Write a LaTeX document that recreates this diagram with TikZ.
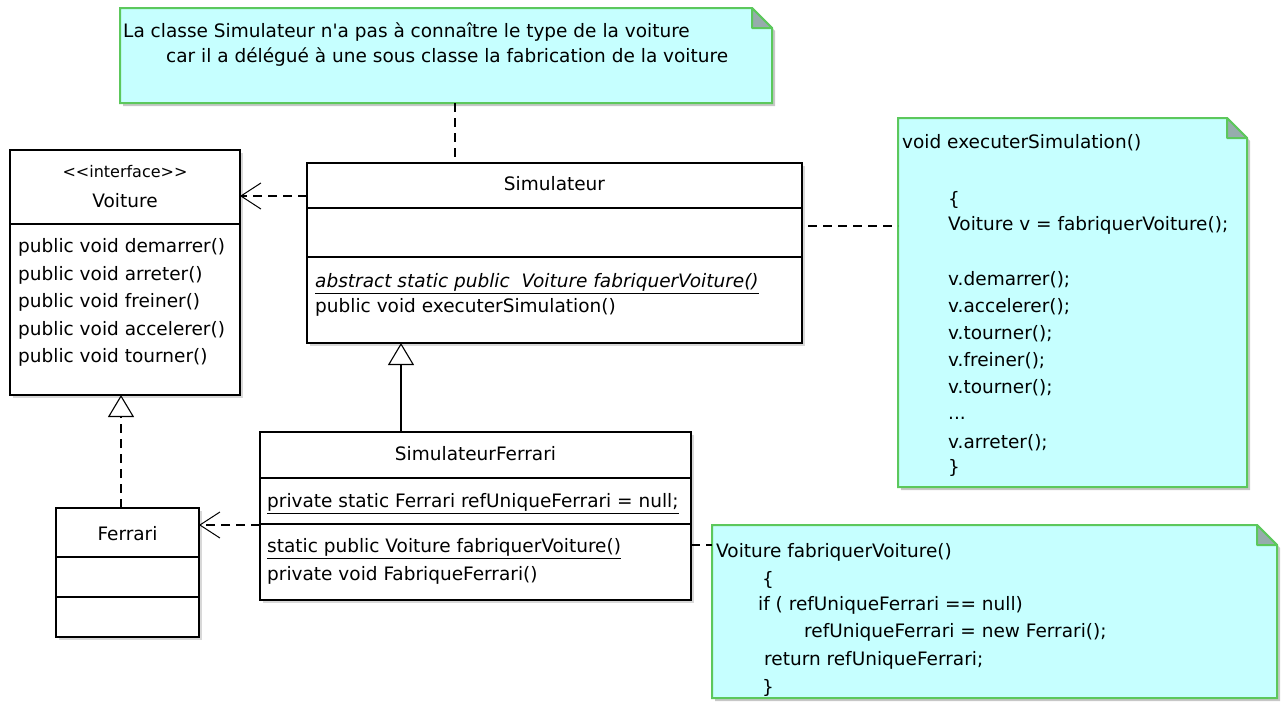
\documentclass[tikz,border=0pt]{standalone}
\usepackage{fontspec}
\setmainfont{DejaVu Sans}
\usetikzlibrary{arrows.meta,shadows}
\definecolor{notefill}{RGB}{198,255,255}
\definecolor{notedraw}{RGB}{92,200,92}
\definecolor{foldfill}{RGB}{150,172,172}
\tikzset{
  cls/.style={draw=black, line width=1.3pt, fill=white, inner sep=0pt, outer sep=0pt,
    anchor=north west, drop shadow={shadow xshift=3pt, shadow yshift=-3pt, fill=black!30}},
  divline/.style={line width=1.3pt},
  txt/.style={anchor=west, inner sep=0pt, text height=11pt, text depth=0pt},
  ctxt/.style={anchor=center, inner sep=0pt, text height=11pt, text depth=0pt},
  deparrow/.style={line width=1.3pt, dash pattern=on 9pt off 6pt,
    -{Straight Barb[length=20pt, width=26pt, line width=1pt]}},
  genarrow/.style={line width=1.3pt, -{Triangle[length=22pt, width=26pt, fill=white, line width=1.1pt]}},
  realarrow/.style={genarrow, dash pattern=on 9pt off 6pt},
  notelink/.style={line width=1.3pt, dash pattern=on 9pt off 6pt},
  notebody/.style={fill=notefill, draw=notedraw, line width=2pt},
  notefold/.style={fill=foldfill, draw=notedraw, line width=2pt, line join=round},
  notearea/.style={inner sep=0pt, outer sep=0pt, anchor=north west}
}
\newcommand\umlnote[5]{%
  \fill[black!22] (#2+3,#3+3) -- (#4-20+3,#3+3) -- (#4+3,#3+20+3) -- (#4+3,#5+3) -- (#2+3,#5+3) -- cycle;
  \draw[notebody] (#2,#3) -- (#4-20,#3) -- (#4,#3+20) -- (#4,#5) -- (#2,#5) -- cycle;
  \draw[notefold] (#4-20,#3) -- (#4-20,#3+20) -- (#4,#3+20) -- cycle;
  \node[notearea, minimum width={#4-#2}, minimum height={#5-#3}] (#1) at (#2,#3) {};
}
\begin{document}
\begin{tikzpicture}[x=1pt, y=-1pt, font=\fontsize{18.5}{22}\selectfont]
\useasboundingbox (0,0) rectangle (1281,702);

% ---------- notes ----------
\umlnote{n1}{120}{8}{772}{103}
\node[txt] (n1a) at (123,32) {La classe Simulateur n\textquotesingle a pas à connaître le type de la voiture};
\node[txt] (n1b) at (166,57) {car il a délégué à une sous classe la fabrication de la voiture};

\umlnote{n2}{898}{118}{1247}{487}
\node[txt] (n2a) at (902,143) {void executerSimulation()};
\node[txt] (n2b) at (948,200) {\{};
\node[txt] (n2c) at (948,225) {Voiture v = fabriquerVoiture();};
\node[txt] (n2d) at (948,280) {v.demarrer();};
\node[txt] (n2e) at (948,307) {v.accelerer();};
\node[txt] (n2f) at (948,334) {v.tourner();};
\node[txt] (n2g) at (948,361) {v.freiner();};
\node[txt] (n2h) at (948,388) {v.tourner();};
\node[txt] (n2i) at (948,414) {...};
\node[txt] (n2j) at (948,443) {v.arreter();};
\node[txt] (n2k) at (948,468) {\}};

\umlnote{n3}{712}{525}{1277}{698}
\node[txt] (n3a) at (716,552) {Voiture fabriquerVoiture()};
\node[txt] (n3b) at (762,580) {\{};
\node[txt] (n3c) at (758,605) {if ( refUniqueFerrari == null)};
\node[txt] (n3d) at (804,632) {refUniqueFerrari = new Ferrari();};
\node[txt] (n3e) at (764,660) {return refUniqueFerrari;};
\node[txt] (n3f) at (762,688) {\}};

% ---------- Voiture ----------
\node[cls, minimum width=230pt, minimum height=245pt] (voit) at (10,150) {};
\draw[divline] (10,224) -- (240,224);
\node[ctxt, font=\fontsize{16}{20}\selectfont] (voit-st) at (125,172) {<{}<interface>{}>};
\node[ctxt] (voit-n) at (125,202) {Voiture};
\node[txt] (voit-m1) at (18,247) {public void demarrer()};
\node[txt] (voit-m2) at (18,275) {public void arreter()};
\node[txt] (voit-m3) at (18,302) {public void freiner()};
\node[txt] (voit-m4) at (18,330) {public void accelerer()};
\node[txt] (voit-m5) at (18,357) {public void tourner()};

% ---------- Simulateur ----------
\node[cls, minimum width=495pt, minimum height=180pt] (sim) at (307,163) {};
\draw[divline] (307,208) -- (802,208);
\draw[divline] (307,257) -- (802,257);
\node[ctxt] (sim-n) at (554.5,185) {Simulateur};
\node[txt] (sim-m1) at (315,282) {\underline{\textit{abstract static public\ \ Voiture fabriquerVoiture()}}};
\node[txt] (sim-m2) at (315,307) {public void executerSimulation()};

% ---------- SimulateurFerrari ----------
\node[cls, minimum width=431pt, minimum height=168pt] (sf) at (260,432) {};
\draw[divline] (260,478) -- (691,478);
\draw[divline] (260,524) -- (691,524);
\node[ctxt] (sf-n) at (475.5,455) {SimulateurFerrari};
\node[txt] (sf-a1) at (267,502) {\underline{private static Ferrari refUniqueFerrari = null;}};
\node[txt] (sf-m1) at (267,547) {\underline{static public Voiture fabriquerVoiture()}};
\node[txt] (sf-m2) at (267,575) {private void FabriqueFerrari()};

% ---------- Ferrari ----------
\node[cls, minimum width=143pt, minimum height=129pt] (ferr) at (56,508) {};
\draw[divline] (56,557) -- (199,557);
\draw[divline] (56,597) -- (199,597);
\node[ctxt] (ferr-n) at (127.5,535) {Ferrari};

% ---------- connectors ----------
\coordinate (d1) at (0,196);
\coordinate (d2) at (0,525);
\coordinate (g1) at (401,0);
\coordinate (r1) at (121,0);
\coordinate (c1) at (455,0);
\coordinate (c2) at (0,226);
\coordinate (c3) at (0,545);
\draw[deparrow] (sim.west |- d1) -- (voit.east |- d1);
\draw[deparrow] (sf.west |- d2) -- (ferr.east |- d2);
\draw[genarrow] (sf.north -| g1) -- (sim.south -| g1);
\draw[realarrow] (ferr.north -| r1) -- (voit.south -| r1);
\draw[notelink] (n1.south -| c1) -- (sim.north -| c1);
\draw[notelink, shorten <=6pt] (sim.east |- c2) -- (n2.west |- c2);
\draw[notelink] (sf.east |- c3) -- (n3.west |- c3);
\end{tikzpicture}
\end{document}
